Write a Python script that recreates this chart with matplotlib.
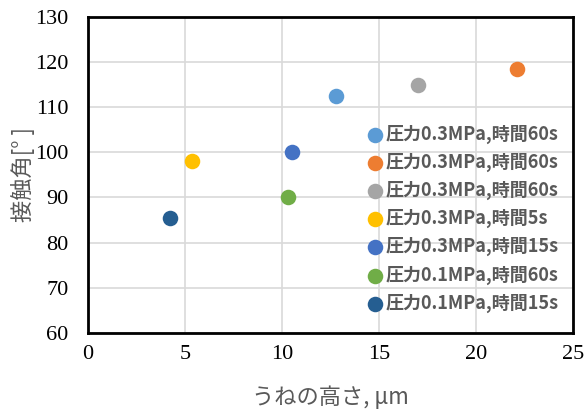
import matplotlib.pyplot as plt

# data
labels = ['圧力0.3MPa,時間60s', '圧力0.3MPa,時間60s', '圧力0.3MPa,時間60s',
          '圧力0.3MPa,時間5s', '圧力0.3MPa,時間15s', '圧力0.1MPa,時間60s',
          '圧力0.1MPa,時間15s']
ridge_height = [12.8, 22.1, 17.0, 5.35, 10.5, 10.3, 4.2]
contact_angle = [112.5, 118.5, 115.0, 98.0, 100.0, 90.0, 85.5]
colors = ['#5B9BD5', '#ED7D31', '#A5A5A5', '#FFC000', '#4472C4', '#70AD47', '#255E91']

fig = plt.figure(figsize=(5.87, 4.12), dpi=100)
ax = fig.add_axes([0.150, 0.192, 0.826, 0.767])

for x, y, c, lab in zip(ridge_height, contact_angle, colors, labels):
    ax.scatter(x, y, s=125, color=c, label=lab, zorder=3, linewidths=0)

ax.set_xlim(0, 25)
ax.set_ylim(60, 130)
ax.set_xticks(range(0, 26, 5))
ax.set_yticks(range(60, 131, 10))
ax.grid(True, color='#d9d9d9', lw=1.2)
ax.set_axisbelow(True)
for sp in ax.spines.values():
    sp.set_linewidth(2)
    sp.set_color('black')
ax.tick_params(axis='x', length=0, pad=9)
ax.tick_params(axis='y', length=0, pad=14)
for t in ax.get_xticklabels() + ax.get_yticklabels():
    t.set_fontfamily('Liberation Serif')
    t.set_fontsize(16)

ax.set_xlabel('うねの高さ, μm', family=['Noto Sans CJK JP', 'DejaVu Sans'],
              fontsize=16, color='#595959', labelpad=15)
ax.set_ylabel('接触角[° ]', family=['Noto Sans CJK JP', 'DejaVu Sans'],
              fontsize=16, color='#595959', labelpad=0)

leg = ax.legend(loc='upper left', bbox_to_anchor=(0.57, 0.66), frameon=False,
                prop={'family': 'Noto Sans CJK JP', 'weight': 'bold', 'size': 13},
                handletextpad=0.0, labelspacing=0.5, borderaxespad=0, handlelength=1.2,
                borderpad=0)
for t in leg.get_texts():
    t.set_color('#595959')

fig.savefig('out.png', dpi=100)
